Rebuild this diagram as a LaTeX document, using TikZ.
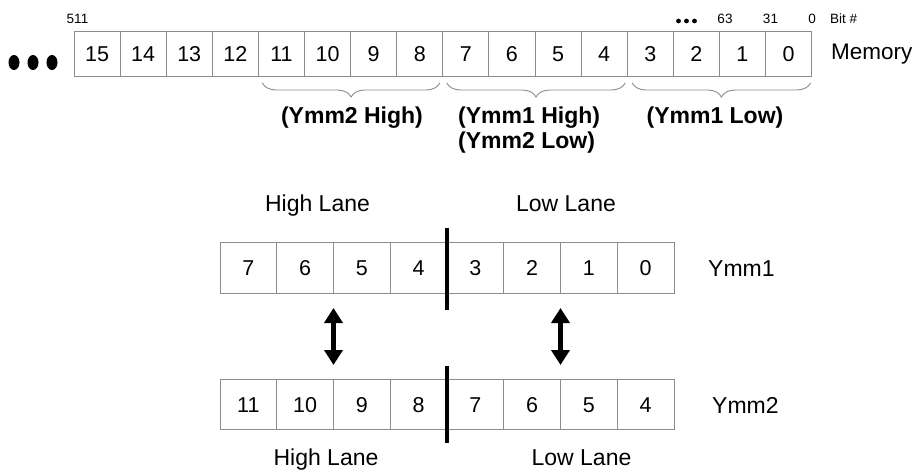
\documentclass[tikz,border=0pt]{standalone}
\usepackage{fontspec}
\setmainfont{Liberation Sans}
\usetikzlibrary{arrows.meta,decorations.pathreplacing}
\begin{document}
\begin{tikzpicture}[x=1pt,y=1pt,
  memcell/.style={draw=black!45, line width=0.9pt, minimum height=45pt, minimum width=46.1pt,
    inner sep=0pt, outer sep=0pt, anchor=north west, font=\fontsize{21.5}{24}\selectfont,
    text height=15.4pt, text depth=0pt},
  regcell/.style={draw=black!45, line width=0.9pt, minimum height=50.6pt, minimum width=56.75pt,
    inner sep=0pt, outer sep=0pt, anchor=north west, font=\fontsize{21.5}{24}\selectfont,
    text height=15.4pt, text depth=0pt},
  small/.style={font=\fontsize{13.5}{15}\selectfont, inner sep=0pt},
  biglabel/.style={font=\fontsize{23}{26}\selectfont, inner sep=0pt},
  memlabel/.style={font=\fontsize{22.5}{26}\selectfont, inner sep=0pt},
  boldlabel/.style={font=\fontsize{23}{26}\selectfont\bfseries, inner sep=0pt},
  bracelines/.style={draw=black!45, line width=0.9pt, decorate,
    decoration={brace, amplitude=14pt, mirror}},
  divider/.style={line width=3.5pt},
  swaparrow/.style={line width=5pt, {Triangle[width=18pt,length=15pt]}-{Triangle[width=18pt,length=15pt]}},
]
\useasboundingbox (0,0) rectangle (919,-471);

% ellipsis at left
\fill (14,-62.5) ellipse (5.5 and 7.5);
\fill (33,-62.5) ellipse (5.5 and 7.5);
\fill (52,-62.5) ellipse (5.5 and 7.5);

% memory row
\foreach \n [count=\i from 0] in {15,14,...,0}
  \node[memcell] (m\n) at (74+\i*46.1,-31) {\n};

% small labels above
\node[small] (l511) at (77.5,-19) {511};
\fill (678.5,-21) circle (2.4);
\fill (686.5,-21) circle (2.4);
\fill (694.5,-21) circle (2.4);
\node[small] (l63) at (725,-18.5) {63};
\node[small] (l31) at (770.5,-18.5) {31};
\node[small] (l0) at (812,-18.5) {0};
\node[small, anchor=west] (lbit) at (830,-18.5) {Bit \#};
\node[memlabel, anchor=west] (lmem) at (831,-54) {Memory};

% braces
\draw[bracelines] ([xshift=4pt,yshift=-7pt]m11.south west) -- ([xshift=-3pt,yshift=-7pt]m8.south east);
\draw[bracelines] ([xshift=4pt,yshift=-7pt]m7.south west) -- ([xshift=-2pt,yshift=-7pt]m4.south east);
\draw[bracelines] ([xshift=5pt,yshift=-7pt]m3.south west) -- ([xshift=-1pt,yshift=-7pt]m0.south east);

\node[boldlabel] (y2h) at (352,-118) {(Ymm2 High)};
\node[boldlabel, anchor=west] (y1h) at (458,-118) {(Ymm1 High)};
\node[boldlabel, anchor=west] (y2l) at (458,-143) {(Ymm2 Low)};
\node[boldlabel] (y1l) at (715,-118) {(Ymm1 Low)};

% lane labels top
\node[biglabel, anchor=base] (hl1) at (317.5,-211.5) {High Lane};
\node[biglabel, anchor=base] (ll1) at (566,-211.5) {Low Lane};

% Ymm1 row
\foreach \n [count=\i from 0] in {7,6,...,0}
  \node[regcell] (a\n) at (220+\i*56.75,-242.7) {\n};
\node[biglabel, anchor=base west] (ymm1) at (708,-276) {Ymm1};

% Ymm2 row
\foreach \n [count=\i from 0] in {11,10,...,4}
  \node[regcell] (b\n) at (220+\i*56.75,-379.3) {\n};
\node[biglabel, anchor=base west] (ymm2) at (712,-413) {Ymm2};

% dividers
\draw[divider] ([yshift=14.5pt]a4.north east) -- ([yshift=-16.5pt]a4.south east);
\draw[divider] ([yshift=13.3pt]b8.north east) -- ([yshift=-13.3pt]b8.south east);

% swap arrows
\draw[swaparrow, shorten <=14.7pt, shorten >=14.3pt] (a6.south east) -- (b10.north east);
\draw[swaparrow, shorten <=14.7pt, shorten >=14.3pt] (a2.south east) -- (b6.north east);

% lane labels bottom
\node[biglabel, anchor=base] (hl2) at (326,-465.5) {High Lane};
\node[biglabel, anchor=base] (ll2) at (581.5,-465.5) {Low Lane};
\end{tikzpicture}
\end{document}
